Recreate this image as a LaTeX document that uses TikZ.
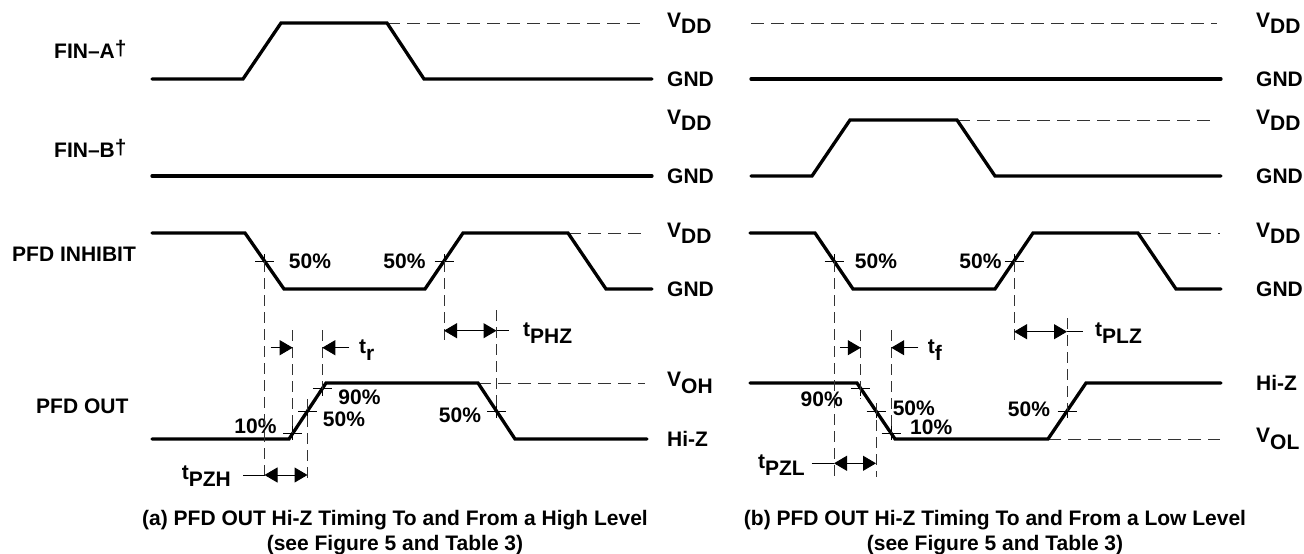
\documentclass[tikz,border=0pt]{standalone}
\usepackage{fontspec}
\setmainfont{Liberation Sans}
\usetikzlibrary{arrows.meta,calc}
\newcommand\lvl[2]{#1\raisebox{-0.3em}{#2}}
\tikzset{
  sig/.style={line width=3.3pt, line join=miter, line cap=round},
  href/.style={line width=0.9pt, dash pattern=on 13pt off 7pt, black!80},
  vref/.style={line width=0.9pt, dash pattern=on 11pt off 6pt, black!80},
  tk/.style={line width=0.9pt},
  arr/.style={line width=1pt, -{Triangle[length=13pt,width=15pt]}},
  darr/.style={line width=1pt, {Triangle[length=13pt,width=15pt]}-{Triangle[length=13pt,width=15pt]}},
  lbl/.style={font=\fontsize{21}{25}\selectfont\bfseries, inner sep=0pt},
  lw/.style={lbl, anchor=west},
  le/.style={lbl, anchor=east},
  capt/.style={font=\fontsize{21}{25}\selectfont\bfseries, inner sep=0pt, anchor=base},
}
\newcommand\crossmark[1]{\draw[tk] ($(#1)+(-9.5,0)$) -- ($(#1)+(9.5,0)$) ($(#1)+(0,-7)$) -- ($(#1)+(0,7)$);}
\begin{document}
\begin{tikzpicture}[x=1pt,y=-1pt]
\useasboundingbox (0,0) rectangle (1304,554);

% ---------------- left labels ----------------
\node[lw] (lfa) at (54,49) {FIN–A\raisebox{0.15em}{†}};
\node[lw] (lfb) at (54,148) {FIN–B\raisebox{0.15em}{†}};
\node[lw] (lin) at (12,254.5) {PFD INHIBIT};
\node[lw] (lout) at (36,406) {PFD OUT};

% ================= PANEL (a) =================
% FIN-A
\coordinate (fa0) at (152,79); \coordinate (fa1) at (243,79); \coordinate (fa2) at (281,23);
\coordinate (fa3) at (387,23); \coordinate (fa4) at (424,79); \coordinate (fa5) at (652,79);
\draw[href] (fa3) -- (645,23);
\draw[sig] (fa0) -- (fa1) -- (fa2) -- (fa3) -- (fa4) -- (fa5);
\node[lw] (av1) at (667,23) {\lvl{V}{DD}};
\node[lw] (ag1) at (667,79) {GND};
% FIN-B
\coordinate (fb0) at (152,176); \coordinate (fb1) at (652,176);
\draw[sig] (fb0) -- (fb1);
\node[lw] (av2) at (667,120) {\lvl{V}{DD}};
\node[lw] (ag2) at (667,176) {GND};
% PFD INHIBIT
\coordinate (i0) at (152,233); \coordinate (i1) at (245,233); \coordinate (i2) at (284,289);
\coordinate (i3) at (425,289); \coordinate (i4) at (463,233); \coordinate (i5) at (568,233);
\coordinate (i6) at (606,289); \coordinate (i7) at (652,289);
\draw[href] (i5) -- (645,233);
\draw[sig] (i0) -- (i1) -- (i2) -- (i3) -- (i4) -- (i5) -- (i6) -- (i7);
\node[lw] (av3) at (667,233) {\lvl{V}{DD}};
\node[lw] (ag3) at (667,289) {GND};
\coordinate (mA) at ($(i1)!0.5!(i2)$);
\coordinate (mB) at ($(i3)!0.5!(i4)$);
\crossmark{mA} \crossmark{mB}
\node[lbl] (pa1) at (310,261) {50\%};
\node[lbl] (pa2) at (404.5,261) {50\%};
% PFD OUT
\coordinate (o0) at (152,439); \coordinate (o1) at (289,439); \coordinate (o2) at (326,383);
\coordinate (o3) at (478,383); \coordinate (o4) at (515,439); \coordinate (o5) at (647,439);
\draw[href] (o3) -- (645,383);
\draw[sig] (o0) -- (o1) -- (o2) -- (o3) -- (o4) -- (o5);
\node[lw] (aoh) at (667,383) {\lvl{V}{OH}};
\node[lw] (ahz) at (667,439) {Hi-Z};
\coordinate (p10) at ($(o1)!0.1!(o2)$);
\coordinate (p50) at ($(o1)!0.5!(o2)$);
\coordinate (p90) at ($(o1)!0.9!(o2)$);
\coordinate (q50) at ($(o3)!0.5!(o4)$);
\crossmark{p10} \crossmark{p50} \crossmark{p90} \crossmark{q50}
\node[lbl] (pa3) at (255.5,426.5) {10\%};
\node[lbl] (pa4) at (359.5,397.7) {90\%};
\node[lbl] (pa5) at (344,419.3) {50\%};
\node[lbl] (pa6) at (460,415) {50\%};
% verticals
\draw[vref] (mA) -- (mA |- 0,482);
\draw[vref] (p10 |- 0,330) -- (p10);
\draw[vref] ($(p50)+(0,-12)$) -- (p50 |- 0,482);
\draw[vref] (p90 |- 0,330) -- (p90);
\draw[vref] (mB) -- (mB |- 0,343);
\draw[vref] (q50 |- 0,310) -- (q50);
% t_r
\coordinate (trA) at (270.7,347.7); \coordinate (trB) at (349.3,347.7);
\draw[arr] (trA) -- (p10 |- trA);
\draw[arr] (trB) -- (p90 |- trB);
\node[lw] (tr) at (359,350) {\lvl{t}{r}};
% t_PHZ
\coordinate (phz) at (509,330.7);
\draw[darr] (mB |- phz) -- (q50 |- phz);
\draw[tk] (q50 |- phz) -- (phz);
\node[lw] (tphz) at (523,333) {\lvl{t}{PHZ}};
% t_PZH
\coordinate (pzh) at (243,475);
\draw[tk] (pzh) -- (mA |- pzh);
\draw[darr] (mA |- pzh) -- (p50 |- pzh);
\node[le] (tpzh) at (231,476) {\lvl{t}{PZH}};

% ================= PANEL (b) =================
% FIN-A
\coordinate (gA0) at (751,79); \coordinate (gA1) at (1221,79);
\draw[href] (751,23) -- (1217,23);
\draw[sig] (gA0) -- (gA1);
\node[lw] (bv1) at (1256,23) {\lvl{V}{DD}};
\node[lw] (bg1) at (1256,79) {GND};
% FIN-B
\coordinate (gb0) at (751,176); \coordinate (gb1) at (812,176); \coordinate (gb2) at (850,120);
\coordinate (gb3) at (957,120); \coordinate (gb4) at (995,176); \coordinate (gb5) at (1221,176);
\draw[href] (gb3) -- (1217,120);
\draw[sig] (gb0) -- (gb1) -- (gb2) -- (gb3) -- (gb4) -- (gb5);
\node[lw] (bv2) at (1256,120) {\lvl{V}{DD}};
\node[lw] (bg2) at (1256,176) {GND};
% PFD INHIBIT
\coordinate (j0) at (750,233); \coordinate (j1) at (815,233); \coordinate (j2) at (853,289);
\coordinate (j3) at (995,289); \coordinate (j4) at (1033,233); \coordinate (j5) at (1138,233);
\coordinate (j6) at (1176,289); \coordinate (j7) at (1221,289);
\draw[href] (j5) -- (1220,233);
\draw[sig] (j0) -- (j1) -- (j2) -- (j3) -- (j4) -- (j5) -- (j6) -- (j7);
\node[lw] (bv3) at (1256,233) {\lvl{V}{DD}};
\node[lw] (bg3) at (1256,289) {GND};
\coordinate (nA) at ($(j1)!0.5!(j2)$);
\coordinate (nB) at ($(j3)!0.5!(j4)$);
\crossmark{nA} \crossmark{nB}
\node[lbl] (pb1) at (876,261) {50\%};
\node[lbl] (pb2) at (980.5,261) {50\%};
% PFD OUT
\coordinate (u0) at (750,383); \coordinate (u1) at (857,383); \coordinate (u2) at (895,439);
\coordinate (u3) at (1048,439); \coordinate (u4) at (1086,383); \coordinate (u5) at (1221,383);
\draw[href] (u3) -- (1220,439);
\draw[sig] (u0) -- (u1) -- (u2) -- (u3) -- (u4) -- (u5);
\node[lw] (bhz) at (1256,383) {Hi-Z};
\node[lw] (bol) at (1256,439) {\lvl{V}{OL}};
\coordinate (r90) at ($(u1)!0.1!(u2)$);
\coordinate (r50) at ($(u1)!0.5!(u2)$);
\coordinate (r10) at ($(u1)!0.9!(u2)$);
\coordinate (s50) at ($(u3)!0.5!(u4)$);
\crossmark{r90} \crossmark{r50} \crossmark{r10} \crossmark{s50}
\node[lbl] (pb3) at (821.7,399.3) {90\%};
\node[lbl] (pb4) at (913.8,408.3) {50\%};
\node[lbl] (pb5) at (931.2,427.7) {10\%};
\node[lbl] (pb6) at (1029,409.3) {50\%};
% verticals
\draw[vref] (nA) -- (nA |- 0,477);
\draw[vref] (r90 |- 0,330) -- ($(r90)+(0,10)$);
\draw[vref] ($(r50)+(0,-8)$) -- (r50 |- 0,477);
\draw[vref] (r10 |- 0,330) -- (r10);
\draw[vref] (nB) -- (nB |- 0,343);
\draw[vref] (s50 |- 0,318) -- (s50);
% t_f
\coordinate (tfA) at (840,347.7); \coordinate (tfB) at (918.3,347.7);
\draw[arr] (tfA) -- (r90 |- tfA);
\draw[arr] (tfB) -- (r10 |- tfB);
\node[lw] (tf) at (927.7,350) {\lvl{t}{f}};
% t_PLZ
\coordinate (plz) at (1083,331.7);
\draw[darr] (nB |- plz) -- (s50 |- plz);
\draw[tk] (s50 |- plz) -- (plz);
\node[lw] (tplz) at (1095,333) {\lvl{t}{PLZ}};
% t_PZL
\coordinate (pzl) at (811.7,463.3);
\draw[tk] (pzl) -- (nA |- pzl);
\draw[darr] (nA |- pzl) -- (r50 |- pzl);
\node[le] (tpzl) at (805,465) {\lvl{t}{PZL}};

% captions
\node[capt] (capa1) at (395,525) {(a) PFD OUT Hi-Z Timing To and From a High Level};
\node[capt] (capa2) at (395,550) {(see Figure 5 and Table 3)};
\node[capt] (capb1) at (995,525) {(b) PFD OUT Hi-Z Timing To and From a Low Level};
\node[capt] (capb2) at (995,550) {(see Figure 5 and Table 3)};
\end{tikzpicture}
\end{document}
